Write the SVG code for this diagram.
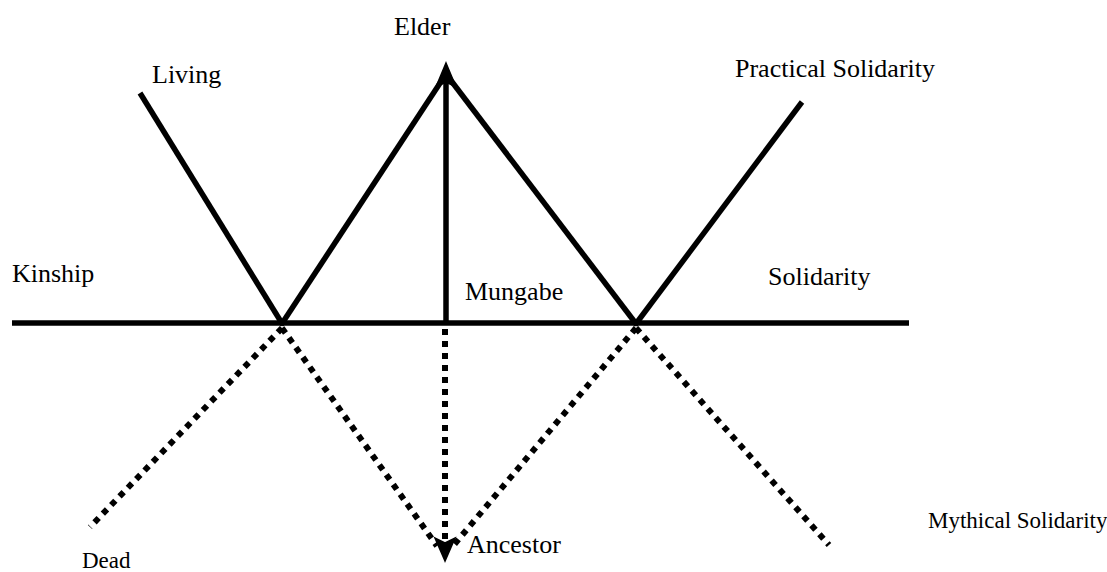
<svg xmlns="http://www.w3.org/2000/svg" width="1107" height="572" viewBox="0 0 1107 572">
<style>
.solid{stroke:#000;stroke-width:5.5;fill:none;stroke-linecap:butt}
.dot{stroke:#000;stroke-width:6;fill:none;stroke-dasharray:6 6;stroke-linecap:butt}
.head{fill:#000;stroke:#000;stroke-width:1.5;stroke-linejoin:miter}
text{font-family:"Liberation Serif","Times New Roman",serif;font-size:26px;fill:#000}
</style>
<rect width="1107" height="572" fill="#fff"/>
<g id="connectors">
<line class="solid" x1="12" y1="323" x2="909" y2="323"/>
<line class="solid" x1="140" y1="93" x2="283" y2="325"/>
<line class="solid" x1="281" y1="325" x2="446" y2="74"/>
<line class="solid" x1="446" y1="74" x2="637" y2="325"/>
<line class="solid" x1="635" y1="325" x2="802" y2="102"/>
<line class="solid" x1="446" y1="323" x2="446" y2="78"/>
<polygon class="head" points="446,63 456,87 446,82 436,87"/>
<line class="dot" x1="282" y1="328" x2="437" y2="546"/>
<line class="dot" x1="282" y1="328" x2="90" y2="527"/>
<line class="dot" x1="636" y1="328" x2="453" y2="546"/>
<line class="dot" x1="636" y1="328" x2="829" y2="545"/>
<line class="dot" x1="445" y1="329" x2="445" y2="544"/>
<polygon class="head" points="445,561 435,538 445,543 455,538"/>
</g>
<g id="elder"><text x="394" y="35">Elder</text></g>
<g id="living"><text x="152" y="83">Living</text></g>
<g id="practical"><text x="735" y="77">Practical Solidarity</text></g>
<g id="kinship"><text x="12" y="282">Kinship</text></g>
<g id="mungabe"><text x="465" y="300">Mungabe</text></g>
<g id="solidarity"><text x="768" y="285">Solidarity</text></g>
<g id="mythical"><text x="928" y="528" style="font-size:23px">Mythical Solidarity</text></g>
<g id="ancestor"><text x="467" y="553">Ancestor</text></g>
<g id="dead"><text x="82" y="568" style="font-size:23px">Dead</text></g>
</svg>
